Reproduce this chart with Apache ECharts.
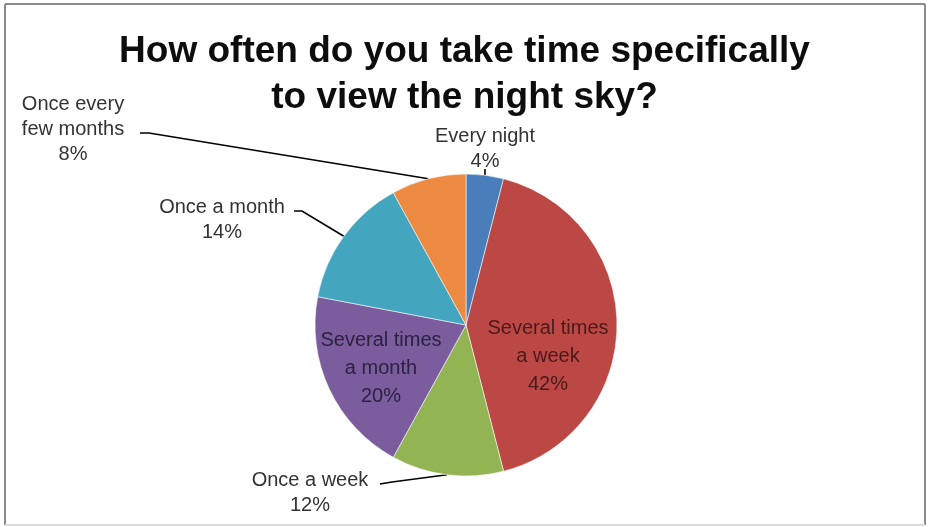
<!DOCTYPE html>
<html>
<head>
<meta charset="utf-8">
<title>How often do you take time specifically to view the night sky?</title>
<script src="https://cdn.jsdelivr.net/npm/echarts@6/dist/echarts.min.js"></script>
<style>
  html, body { margin: 0; padding: 0; background: #ffffff; }
  #chart { width: 929px; height: 527px; }
</style>
</head>
<body>
<div id="chart"></div>
<script>
// Survey answers, in clockwise order starting at 12 o'clock
const categories = [
  'Every night',
  'Several times\na week',
  'Once a week',
  'Several times\na month',
  'Once a month',
  'Once every\nfew months'
];
const shares = [4, 42, 12, 20, 14, 8]; // percent of respondents
const sliceColors = ['#4a7ebb', '#bb4845', '#93b453', '#7b5d9e', '#43a5be', '#ec8a42'];
const titleText = 'How often do you take time specifically\nto view the night sky?';

// Where each label block sits (centre of the text) and the elbow/end of its leader line
const labelSpots = [
  { x: 485, y: 149, line: [[485, 171], [485, 169]] },
  { x: 548, y: 356, inside: true },
  { x: 310, y: 493, line: [[392, 482], [380, 484]] },
  { x: 381, y: 368, inside: true },
  { x: 222, y: 220, line: [[302, 211], [294, 211]] },
  { x: 73, y: 129, line: [[149, 133], [140, 133]] }
];
const insideTextColors = ['#262626', '#4a1a1a', '#262626', '#2b2140', '#262626', '#262626'];

const chart = echarts.init(document.getElementById('chart'), null, { renderer: 'canvas' });

const pieData = categories.map((name, i) => ({
  name: name,
  value: shares[i],
  itemStyle: { color: sliceColors[i] },
  label: labelSpots[i].inside
    ? { color: insideTextColors[i], lineHeight: 28 }
    : { color: '#333333', lineHeight: 25 },
  labelLine: { show: !labelSpots[i].inside }
}));

chart.setOption({
  animation: false,
  backgroundColor: '#ffffff',
  title: {
    text: titleText,
    left: 'center',
    top: 24,
    textStyle: {
      fontFamily: 'Liberation Sans, Arial, sans-serif',
      fontSize: 37,
      fontWeight: 'bold',
      lineHeight: 46,
      color: '#0d0d0d'
    }
  },
  graphic: [
    // chart frame
    { type: 'line', shape: { x1: 5, y1: 4, x2: 925, y2: 4 }, style: { stroke: '#8a8a8a', lineWidth: 2 } },
    { type: 'line', shape: { x1: 5, y1: 4, x2: 5, y2: 525 }, style: { stroke: '#8a8a8a', lineWidth: 2 } },
    { type: 'line', shape: { x1: 925, y1: 4, x2: 925, y2: 525 }, style: { stroke: '#8a8a8a', lineWidth: 2 } },
    { type: 'line', shape: { x1: 5, y1: 525, x2: 925, y2: 525 }, style: { stroke: '#dcdcdc', lineWidth: 2 } }
  ],
  series: [{
    type: 'pie',
    center: [466, 325],
    radius: 151,
    startAngle: 90,
    clockwise: true,
    avoidLabelOverlap: false,
    itemStyle: { borderColor: 'rgba(255,255,255,0.7)', borderWidth: 0.8 },
    label: {
      show: true,
      position: 'outside',
      formatter: '{b}\n{c}%',
      fontFamily: 'Liberation Sans, Arial, sans-serif',
      fontSize: 20,
      align: 'center'
    },
    labelLine: {
      show: true,
      lineStyle: { color: '#000000', width: 1.6 }
    },
    labelLayout: function (params) {
      const spot = labelSpots[params.dataIndex];
      const out = { x: spot.x, y: spot.y, align: 'center', verticalAlign: 'middle' };
      if (!spot.inside && params.labelLinePoints) {
        const start = params.labelLinePoints[0];
        out.labelLinePoints = [start, spot.line[0], spot.line[1]];
      }
      return out;
    },
    data: pieData
  }]
});
</script>
</body>
</html>
